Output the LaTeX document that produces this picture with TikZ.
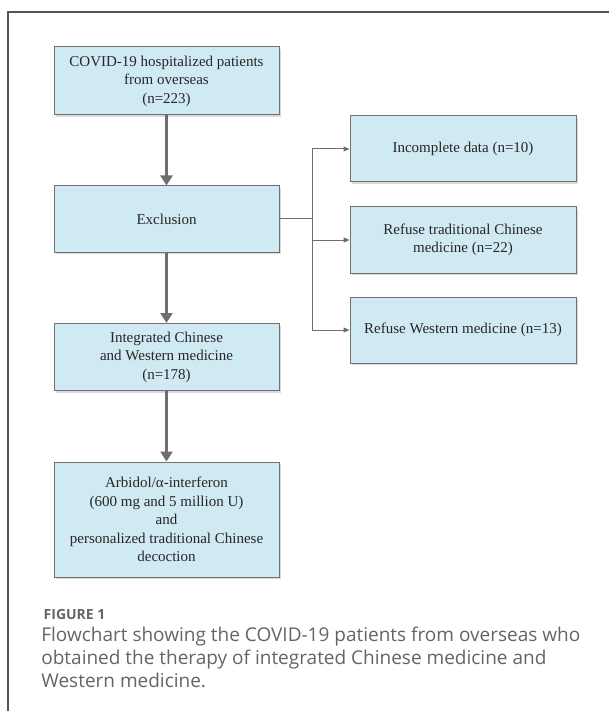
\documentclass[tikz,border=0pt]{standalone}
\usepackage{fontspec}
\setmainfont{Liberation Serif}
\newfontfamily\capfont{Open Sans}
\usetikzlibrary{arrows.meta,shadows}

\definecolor{boxfill}{RGB}{208,234,244}
\definecolor{boxline}{RGB}{112,112,112}
\definecolor{arrowgray}{RGB}{110,110,110}
\definecolor{capgray}{RGB}{100,100,100}

\tikzset{every picture/.style={line width=0.75pt}}
\tikzset{
  flowbox/.style={draw=boxline, fill=boxfill, line width=1pt, align=center,
    minimum width=225pt, inner sep=2pt, text=black!85, font=\fontsize{15}{18.5}\selectfont,
    drop shadow={shadow xshift=2pt, shadow yshift=-2pt, fill=black!25, opacity=0.6}},
  mainarrow/.style={draw=arrowgray, line width=3pt, -{Triangle[width=12pt,length=10pt]}},
  sidearrow/.style={draw=arrowgray, line width=1pt, -{Triangle[width=5pt,length=6pt]}}
}

\begin{document}
\begin{tikzpicture}[x=1pt,y=-1pt]
\useasboundingbox (0,0) rectangle (609,711);

%Frame
\draw [color={rgb, 255:red, 85; green, 85; blue, 85 }][line width=1.2] (609,12) -- (8,12) -- (8,711);

% left column
\node [flowbox, minimum height=68pt] (patients) at (166.5,81) {COVID-19 hospitalized patients\\from overseas\\(n=223)};
\node [flowbox, minimum height=66pt] (exclusion) at (166.5,219) {Exclusion};
\node [flowbox, minimum height=67pt] (integrated) at (166.5,357) {Integrated Chinese\\and Western medicine\\(n=178)};
\node [flowbox, minimum height=115pt] (therapy) at (166.5,519.5) {Arbidol/α-interferon\\(600 mg and 5 million U)\\and\\personalized traditional Chinese\\decoction};

% right column
\node [flowbox, minimum width=226pt, minimum height=66pt] (incomplete) at (463,149) {Incomplete data (n=10)};
\node [flowbox, minimum width=226pt, minimum height=66pt] (refusetcm) at (463,240) {Refuse traditional Chinese\\medicine (n=22)};
\node [flowbox, minimum width=226pt, minimum height=66pt] (refusewm) at (463,330) {Refuse Western medicine (n=13)};

% arrows
\draw [mainarrow] (patients) -- (exclusion);
\draw [mainarrow] (exclusion) -- (integrated);
\draw [mainarrow] (integrated) -- (therapy);

\coordinate (split) at (312,219);
\draw [draw=arrowgray, line width=1pt] (exclusion.east) -- (split);
\draw [sidearrow] (split) |- (incomplete.west);
\draw [sidearrow] (split) |- (refusetcm.west);
\draw [sidearrow] (split) |- (refusewm.west);

% caption
\node [anchor=west, text=capgray, font=\capfont\bfseries\fontsize{14}{16}\selectfont] (figlabel) at (40,614) {FIGURE 1};
\node [anchor=north west, align=left, text=capgray, inner sep=0pt, font=\capfont\fontsize{19}{23}\selectfont] (caption) at (41,627) {Flowchart showing the COVID-19 patients from overseas who\\obtained the therapy of integrated Chinese medicine and\\Western medicine.};

\end{tikzpicture}
\end{document}
